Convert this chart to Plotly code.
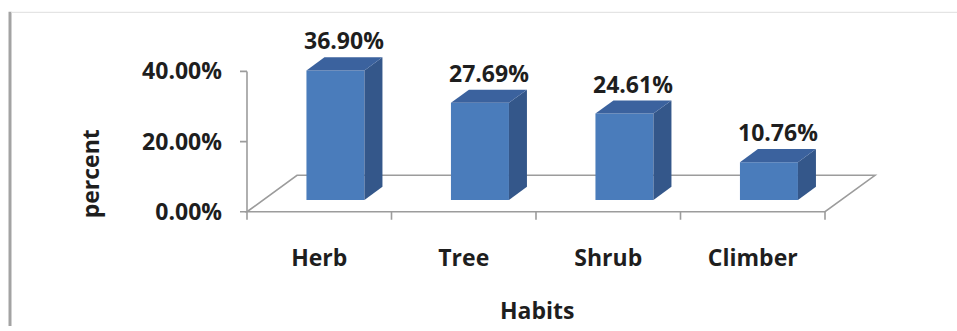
import plotly.graph_objects as go

# ---- data ----
habits = ["Herb", "Tree", "Shrub", "Climber"]
percent = [36.90, 27.69, 24.61, 10.76]
y_ticks = [0, 20, 40]
y_tick_labels = [f"{t:.2f}%" for t in y_ticks]

# ---- canvas / plot-area geometry (pixels) ----
W, H = 957, 331
L, R, T, B = 235, 900, 20, 225          # plot area box
X0_PX, PX_PER_CAT = 247, 144.5          # left category boundary, width per category
Y0_PX, PX_PER_PCT = 215, 3.5625         # 0% baseline, pixels per percent

x_range = [-0.5 - (X0_PX - L) / PX_PER_CAT, -0.5 + (R - X0_PX) / PX_PER_CAT]
y_range = [-(B - Y0_PX) / PX_PER_PCT, (Y0_PX - T) / PX_PER_PCT]

# 3-D floor depth (data units) and bar placement inside that depth
DX = 50 / PX_PER_CAT
DY = 37 / PX_PER_PCT
F0, F1 = 0.324, 0.684
BAR_W = 58 / PX_PER_CAT
SDX, SDY = (F1 - F0) * DX, (F1 - F0) * DY

FRONT = "#4A7CBB"
SIDE = "#34578A"
TOP = "#3B629E"
AXIS = "#9C9C9C"
TEXT = "#1E1E1E"
FONT = dict(family="Open Sans", size=23, color=TEXT, weight="bold")

n = len(habits)
xc = [i + F0 * DX for i in range(n)]
base = F0 * DY

fig = go.Figure()

# front faces of the bars
fig.add_trace(go.Bar(
    x=xc, y=percent, base=[base] * n, width=BAR_W,
    marker=dict(color=FRONT, line=dict(width=0)),
    hoverinfo="skip", showlegend=False, cliponaxis=False,
))

# side and top faces
for x, v in zip(xc, percent):
    xl, xr = x - BAR_W / 2, x + BAR_W / 2
    top = base + v
    fig.add_trace(go.Scatter(
        x=[xr, xr + SDX, xr + SDX, xr, xr],
        y=[base, base + SDY, top + SDY, top, base],
        fill="toself", fillcolor=SIDE, mode="lines",
        line=dict(width=0, color=SIDE), hoverinfo="skip", showlegend=False,
    ))
    fig.add_trace(go.Scatter(
        x=[xl, xl + SDX, xr + SDX, xr, xl],
        y=[top, top + SDY, top + SDY, top, top],
        fill="toself", fillcolor=TOP, mode="lines",
        line=dict(width=0, color=TOP), hoverinfo="skip", showlegend=False,
    ))

shapes = []
# floor outline
xa, xb = -0.5, n - 0.5
floor_path = (f"M {xa},0 L {xa + DX},{DY} L {xb + DX},{DY} "
              f"L {xb},0 Z")
shapes.append(dict(type="path", path=floor_path, xref="x", yref="y",
                   line=dict(color=AXIS, width=1.6), layer="below"))
# vertical value axis
shapes.append(dict(type="line", xref="x", yref="y", x0=xa, x1=xa,
                   y0=0, y1=max(y_ticks), line=dict(color=AXIS, width=1.6),
                   layer="below"))
for t in y_ticks:
    shapes.append(dict(type="line", xref="x", yref="y", xsizemode="pixel",
                       xanchor=xa, x0=-7, x1=0, y0=t, y1=t,
                       line=dict(color=AXIS, width=1.6), layer="below"))
# category boundary ticks
for k in range(n + 1):
    shapes.append(dict(type="line", xref="x", yref="y", ysizemode="pixel",
                       yanchor=0, y0=-8, y1=0, x0=k - 0.5, x1=k - 0.5,
                       line=dict(color=AXIS, width=1.6), layer="below"))
# chart frame
shapes.append(dict(type="line", xref="paper", yref="paper",
                   x0=10 / W, x1=10 / W, y0=0, y1=1 - 12 / H,
                   line=dict(color="#A3A3A3", width=3)))
shapes.append(dict(type="line", xref="paper", yref="paper",
                   x0=11 / W, x1=1, y0=1 - 12.5 / H, y1=1 - 12.5 / H,
                   line=dict(color="#DEDEDE", width=1)))

annotations = []
for x, v in zip(xc, percent):
    annotations.append(dict(
        x=x + SDX / 2, y=base + v, xref="x", yref="y",
        text=f"{v:.2f}%", showarrow=False, yshift=30,
        xanchor="center", yanchor="middle", font=FONT,
    ))
annotations.append(dict(x=90 / W, y=1 - 177 / H, xref="paper", yref="paper",
                        text="percent", textangle=-90, showarrow=False,
                        xanchor="center", yanchor="middle", font=FONT))
annotations.append(dict(x=537 / W, y=1 - 315 / H, xref="paper", yref="paper",
                        text="Habits", showarrow=False,
                        xanchor="center", yanchor="middle", font=FONT))

fig.update_layout(
    width=W, height=H,
    margin=dict(l=0, r=0, t=0, b=0),
    paper_bgcolor="white", plot_bgcolor="rgba(0,0,0,0)",
    showlegend=False,
    shapes=shapes, annotations=annotations,
    xaxis=dict(domain=[L / W, R / W], range=x_range, showgrid=False,
               zeroline=False, showline=False, ticks="",
               tickvals=list(range(n)), ticktext=habits,
               tickfont=FONT, ticklabelstandoff=20, fixedrange=True),
    yaxis=dict(domain=[1 - B / H, 1 - T / H], range=y_range, showgrid=False,
               zeroline=False, showline=False, ticks="",
               tickvals=y_ticks, ticktext=y_tick_labels,
               tickfont=FONT, ticklabelstandoff=12, fixedrange=True),
)

fig.write_html("out.html")
